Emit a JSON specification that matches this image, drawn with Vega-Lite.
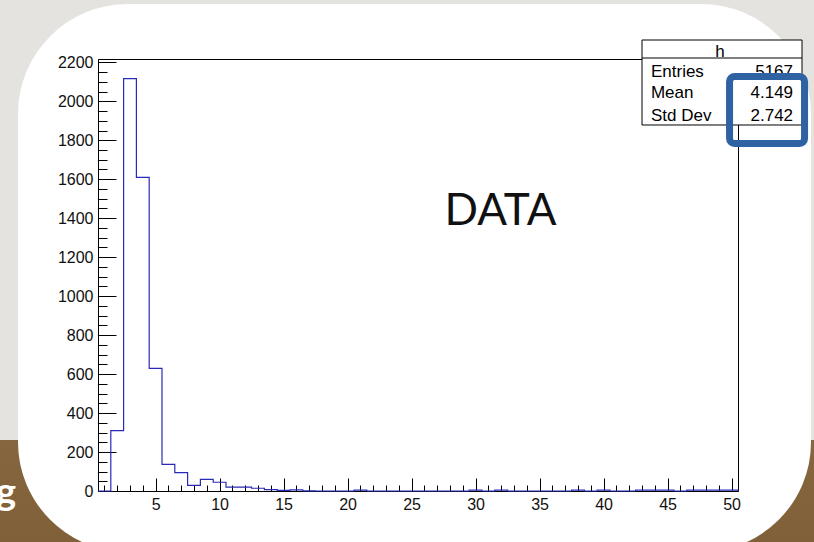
{
  "$schema": "https://vega.github.io/schema/vega-lite/v6.json",
  "width": 640,
  "height": 432,
  "autosize": {"type": "none"},
  "padding": {"left": 98, "top": 59, "right": 76, "bottom": 51},
  "background": "#ffffff",
  "config": {
    "view": {"stroke": "#000000", "strokeWidth": 1},
    "axis": {
      "grid": false,
      "title": null,
      "labelFont": "Liberation Sans",
      "labelFontSize": 16,
      "labelColor": "#111111",
      "tickColor": "#000000",
      "domainColor": "#000000",
      "tickWidth": 1,
      "domainWidth": 1,
      "labelFlush": false,
      "zindex": 1
    }
  },
  "datasets": {
    "hist": [
      {"bin_start": 0.5, "count": 0},
      {"bin_start": 1.5, "count": 310},
      {"bin_start": 2.5, "count": 2116},
      {"bin_start": 3.5, "count": 1610},
      {"bin_start": 4.5, "count": 629},
      {"bin_start": 5.5, "count": 137},
      {"bin_start": 6.5, "count": 94},
      {"bin_start": 7.5, "count": 29},
      {"bin_start": 8.5, "count": 60},
      {"bin_start": 9.5, "count": 45},
      {"bin_start": 10.5, "count": 20},
      {"bin_start": 11.5, "count": 20},
      {"bin_start": 12.5, "count": 14},
      {"bin_start": 13.5, "count": 7},
      {"bin_start": 14.5, "count": 3},
      {"bin_start": 15.5, "count": 6},
      {"bin_start": 16.5, "count": 1},
      {"bin_start": 17.5, "count": 0},
      {"bin_start": 18.5, "count": 0},
      {"bin_start": 19.5, "count": 0},
      {"bin_start": 20.5, "count": 4},
      {"bin_start": 21.5, "count": 0},
      {"bin_start": 22.5, "count": 0},
      {"bin_start": 23.5, "count": 0},
      {"bin_start": 24.5, "count": 0},
      {"bin_start": 25.5, "count": 0},
      {"bin_start": 26.5, "count": 0},
      {"bin_start": 27.5, "count": 0},
      {"bin_start": 28.5, "count": 0},
      {"bin_start": 29.5, "count": 4},
      {"bin_start": 30.5, "count": 0},
      {"bin_start": 31.5, "count": 4},
      {"bin_start": 32.5, "count": 0},
      {"bin_start": 33.5, "count": 0},
      {"bin_start": 34.5, "count": 0},
      {"bin_start": 35.5, "count": 0},
      {"bin_start": 36.5, "count": 0},
      {"bin_start": 37.5, "count": 4},
      {"bin_start": 38.5, "count": 0},
      {"bin_start": 39.5, "count": 4},
      {"bin_start": 40.5, "count": 0},
      {"bin_start": 41.5, "count": 0},
      {"bin_start": 42.5, "count": 4},
      {"bin_start": 43.5, "count": 4},
      {"bin_start": 44.5, "count": 4},
      {"bin_start": 45.5, "count": 0},
      {"bin_start": 46.5, "count": 4},
      {"bin_start": 47.5, "count": 4},
      {"bin_start": 48.5, "count": 4},
      {"bin_start": 49.5, "count": 4},
      {"bin_start": 50.5, "count": 0}
    ]
  },
  "layer": [
    {
      "data": {"values": [{}]},
      "mark": {
        "type": "rect",
        "fill": "transparent",
        "strokeWidth": 200,
        "cornerRadius": 210,
        "stroke": {
          "gradient": "linear",
          "x1": 0, "y1": 0, "x2": 0, "y2": 1,
          "stops": [
            {"offset": 0, "color": "#e5e3df"},
            {"offset": 0.7166, "color": "#e5e3df"},
            {"offset": 0.7166, "color": "#86663e"},
            {"offset": 1, "color": "#7a5a34"}
          ]
        }
      },
      "encoding": {
        "x": {"datum": -13.5625, "type": "quantitative", "axis": null},
        "x2": {"datum": 64.016},
        "y": {"datum": 3012.45, "type": "quantitative", "axis": null},
        "y2": {"datum": -826.2}
      }
    },
    {
      "data": {"values": [{}]},
      "mark": {"type": "text", "text": "g", "font": "Lato", "fontWeight": "bold", "fontSize": 38, "align": "right", "baseline": "alphabetic", "color": "#ffffff"},
      "encoding": {
        "x": {"datum": -5.9, "type": "quantitative", "axis": null},
        "y": {"datum": -71.8, "type": "quantitative", "axis": null}
      }
    },
    {
      "data": {"name": "hist"},
      "mark": {"type": "line", "interpolate": "step-after", "color": "#2a2ab8", "strokeWidth": 1.2},
      "encoding": {
        "x": {
          "field": "bin_start",
          "type": "quantitative",
          "scale": {"domain": [0.5, 50.5], "nice": false, "zero": false},
          "axis": {"orient": "bottom", "values": [5, 10, 15, 20, 25, 30, 35, 40, 45, 50], "format": "d", "tickSize": -13, "labelPadding": 18}
        },
        "y": {
          "field": "count",
          "type": "quantitative",
          "scale": {"domain": [0, 2217], "nice": false, "zero": true},
          "axis": {"orient": "left", "values": [0, 200, 400, 600, 800, 1000, 1200, 1400, 1600, 1800, 2000, 2200], "format": "d", "tickSize": -18, "labelPadding": 23}
        }
      }
    },
    {
      "data": {"name": "hist"},
      "mark": {"type": "point", "opacity": 0},
      "encoding": {
        "x": {
          "field": "bin_start",
          "type": "quantitative",
          "axis": {"orient": "bottom", "values": [1,2,3,4,5,6,7,8,9,10,11,12,13,14,15,16,17,18,19,20,21,22,23,24,25,26,27,28,29,30,31,32,33,34,35,36,37,38,39,40,41,42,43,44,45,46,47,48,49,50], "tickSize": -6, "labels": false, "domain": false}
        },
        "y": {
          "field": "count",
          "type": "quantitative",
          "axis": {"orient": "left", "values": [0,50,100,150,200,250,300,350,400,450,500,550,600,650,700,750,800,850,900,950,1000,1050,1100,1150,1200,1250,1300,1350,1400,1450,1500,1550,1600,1650,1700,1750,1800,1850,1900,1950,2000,2050,2100,2150,2200], "tickSize": -9, "labels": false, "domain": false}
        }
      }
    },
    {
      "data": {"values": [{}]},
      "mark": {"type": "rect", "fill": "#ffffff", "stroke": "#000000", "strokeWidth": 1},
      "encoding": {
        "x": {"datum": 43.0, "type": "quantitative", "axis": null},
        "x2": {"datum": 55.5},
        "y": {"datum": 2314.5, "type": "quantitative", "axis": null},
        "y2": {"datum": 1878.3}
      }
    },
    {
      "data": {"values": [{}]},
      "mark": {"type": "rule", "stroke": "#000000", "strokeWidth": 1},
      "encoding": {
        "x": {"datum": 43.0, "type": "quantitative", "axis": null},
        "x2": {"datum": 55.5},
        "y": {"datum": 2222.1, "type": "quantitative", "axis": null}
      }
    },
    {
      "data": {"values": [{}]},
      "mark": {"type": "text", "text": "h", "font": "Liberation Sans", "fontSize": 17, "align": "center", "baseline": "alphabetic", "color": "#000000"},
      "encoding": {
        "x": {"datum": 49.09, "type": "quantitative", "axis": null},
        "y": {"datum": 2229.8, "type": "quantitative", "axis": null}
      }
    },
    {
      "data": {"values": [{}]},
      "mark": {"type": "text", "text": "Entries", "font": "Liberation Sans", "fontSize": 17, "align": "left", "baseline": "alphabetic", "color": "#000000"},
      "encoding": {
        "x": {"datum": 43.7, "type": "quantitative", "axis": null},
        "y": {"datum": 2124.6, "type": "quantitative", "axis": null}
      }
    },
    {
      "data": {"values": [{}]},
      "mark": {"type": "text", "text": "5167", "font": "Liberation Sans", "fontSize": 17, "align": "right", "baseline": "alphabetic", "color": "#000000"},
      "encoding": {
        "x": {"datum": 54.8, "type": "quantitative", "axis": null},
        "y": {"datum": 2124.6, "type": "quantitative", "axis": null}
      }
    },
    {
      "data": {"values": [{}]},
      "mark": {"type": "text", "text": "Mean", "font": "Liberation Sans", "fontSize": 17, "align": "left", "baseline": "alphabetic", "color": "#000000"},
      "encoding": {
        "x": {"datum": 43.7, "type": "quantitative", "axis": null},
        "y": {"datum": 2014.3, "type": "quantitative", "axis": null}
      }
    },
    {
      "data": {"values": [{}]},
      "mark": {"type": "text", "text": "4.149", "font": "Liberation Sans", "fontSize": 17, "align": "right", "baseline": "alphabetic", "color": "#000000"},
      "encoding": {
        "x": {"datum": 54.8, "type": "quantitative", "axis": null},
        "y": {"datum": 2014.3, "type": "quantitative", "axis": null}
      }
    },
    {
      "data": {"values": [{}]},
      "mark": {"type": "text", "text": "Std Dev", "font": "Liberation Sans", "fontSize": 17, "align": "left", "baseline": "alphabetic", "color": "#000000"},
      "encoding": {
        "x": {"datum": 43.7, "type": "quantitative", "axis": null},
        "y": {"datum": 1898.8, "type": "quantitative", "axis": null}
      }
    },
    {
      "data": {"values": [{}]},
      "mark": {"type": "text", "text": "2.742", "font": "Liberation Sans", "fontSize": 17, "align": "right", "baseline": "alphabetic", "color": "#000000"},
      "encoding": {
        "x": {"datum": 54.8, "type": "quantitative", "axis": null},
        "y": {"datum": 1898.8, "type": "quantitative", "axis": null}
      }
    },
    {
      "data": {"values": [{}]},
      "mark": {"type": "text", "text": "DATA", "font": "Lato", "fontSize": 44, "align": "center", "baseline": "alphabetic", "color": "#111111"},
      "encoding": {
        "x": {"datum": 31.95, "type": "quantitative", "axis": null},
        "y": {"datum": 1365.1, "type": "quantitative", "axis": null}
      }
    },
    {
      "data": {"values": [{}]},
      "mark": {"type": "rect", "fill": "transparent", "stroke": "#2f62a3", "strokeWidth": 7, "cornerRadius": 5},
      "encoding": {
        "x": {"datum": 49.84, "type": "quantitative", "axis": null},
        "x2": {"datum": 55.7},
        "y": {"datum": 2127.2, "type": "quantitative", "axis": null},
        "y2": {"datum": 1783.3}
      }
    }
  ],
  "resolve": {"axis": {"x": "independent", "y": "independent"}}
}
